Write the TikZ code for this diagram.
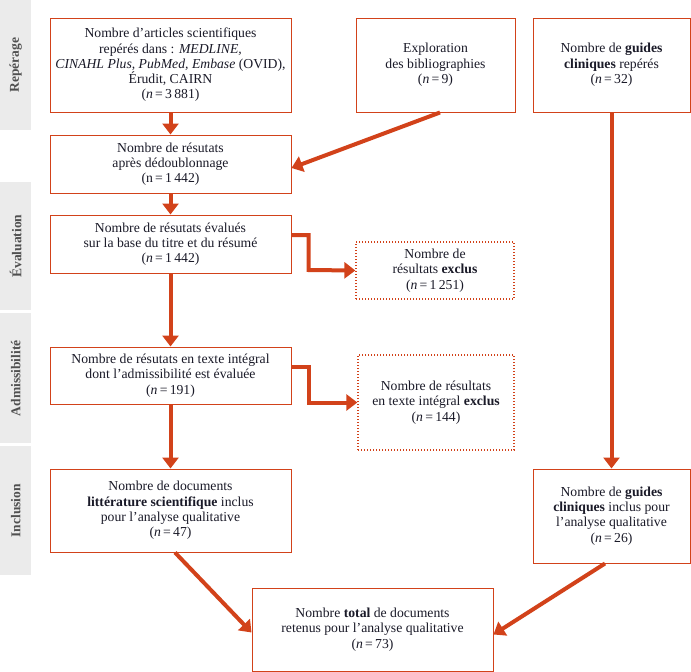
\documentclass[tikz,border=0pt]{standalone}
\usepackage{fontspec}
\setmainfont{Liberation Serif}
\usetikzlibrary{arrows.meta,calc}
\definecolor{orng}{RGB}{210,66,26}
\definecolor{txt}{RGB}{26,26,40}
\definecolor{band}{RGB}{235,235,235}
\definecolor{bandtxt}{RGB}{80,80,80}
\begin{document}
\begin{tikzpicture}[x=1pt,y=-1pt,
  box/.style={draw=orng,line width=1pt,fill=white,text=txt,align=center,inner sep=2pt,
    font=\fontsize{13.7}{15.3}\selectfont},
  exbox/.style={box,dotted,line width=1.3pt},
  flow/.style={draw=orng,line width=4pt,-{Triangle[width=16pt,length=11pt]}},
  bandbox/.style={fill=band,draw=none,minimum width=31pt,anchor=north west,inner sep=0pt},
  bandlbl/.style={rotate=90,text=bandtxt,font=\fontsize{13.5}{15}\selectfont\bfseries}]
\useasboundingbox (0,0) rectangle (691,672);
% stage bands
\node[bandbox,minimum height=130pt] (r1) at (0,0) {};
\node[bandbox,minimum height=128pt] (r2) at (0,182) {};
\node[bandbox,minimum height=130pt] (r3) at (0,313) {};
\node[bandbox,minimum height=129pt] (r4) at (0,446) {};
\node[bandlbl] (l1) at (r1.center) {Repérage};
\node[bandlbl] (l2) at (r2.center) {Évaluation};
\node[bandlbl] (l3) at (r3.center) {Admissibilité};
\node[bandlbl] (l4) at (r4.center) {Inclusion};
% boxes
\node[box,minimum width=241pt,minimum height=94pt] (b1) at (170.5,65)
 {Nombre d’articles scientifiques\\repérés dans : \textit{MEDLINE,}\\\textit{CINAHL Plus, PubMed, Embase} (OVID),\\Érudit, CAIRN\\(\textit{n}\,=\,3\,881)};
\node[box,minimum width=159pt,minimum height=94pt] (ex) at (435.5,65)
 {Exploration\\des bibliographies\\(\textit{n}\,=\,9)};
\node[box,minimum width=157pt,minimum height=94pt] (g1) at (611.5,65)
 {Nombre de \textbf{guides}\\\textbf{cliniques} repérés\\(\textit{n}\,=\,32)};
\node[box,minimum width=241pt,minimum height=58pt] (b2) at (170.5,164)
 {Nombre de résutats\\après dédoublonnage\\(n\,=\,1\,442)};
\node[box,minimum width=241pt,minimum height=58pt] (b3) at (170.5,244)
 {Nombre de résutats évalués\\sur la base du titre et du résumé\\(\textit{n}\,=\,1\,442)};
\node[exbox,minimum width=158pt,minimum height=57pt] (x1) at (435,270.5)
 {Nombre de\\résultats \textbf{exclus}\\(\textit{n}\,=\,1\,251)};
\node[box,minimum width=241pt,minimum height=57pt] (b4) at (170.5,375.5)
 {Nombre de résutats en texte intégral\\dont l’admissibilité est évaluée\\(\textit{n}\,=\,191)};
\node[exbox,minimum width=156pt,minimum height=95pt] (x2) at (436,402.5)
 {Nombre de résultats\\en texte intégral \textbf{exclus}\\(\textit{n}\,=\,144)};
\node[box,minimum width=241pt,minimum height=83pt] (b5) at (170.5,510.5)
 {Nombre de documents\\\textbf{littérature scientifique} inclus\\pour l’analyse qualitative\\(\textit{n}\,=\,47)};
\node[box,minimum width=157pt,minimum height=94pt] (g2) at (611.5,516)
 {Nombre de \textbf{guides}\\\textbf{cliniques} inclus pour\\l’analyse qualitative\\(\textit{n}\,=\,26)};
\node[box,minimum width=241pt,minimum height=83pt] (tot) at (372.5,629.5)
 {Nombre \textbf{total} de documents\\retenus pour l’analyse qualitative\\(\textit{n}\,=\,73)};
% connectors
\draw[flow] (b1.south) -- (b2.north);
\draw[flow] ($(ex.south)+(4.5,0)$) -- ($(b2.east)+(0,4)$);
\draw[flow] (b2.south) -- (b3.north);
\draw[flow] ($(b3.east)+(0,-9)$) -| (308.5,270) -- (x1.west);
\draw[flow] (b3.south) -- (b4.north);
\draw[flow] ($(b4.east)+(0,-8.5)$) -| (308.5,402.5) -- (x2.west);
\draw[flow] (b4.south) -- (b5.north);
\draw[flow] (g1.south) -- (g2.north);
\draw[flow] ($(b5.south)+(4.5,0)$) -- ($(tot.west)+(0,3)$);
\draw[flow] ($(g2.south)+(-6.5,0)$) -- ($(tot.east)+(0,5)$);
\end{tikzpicture}
\end{document}
